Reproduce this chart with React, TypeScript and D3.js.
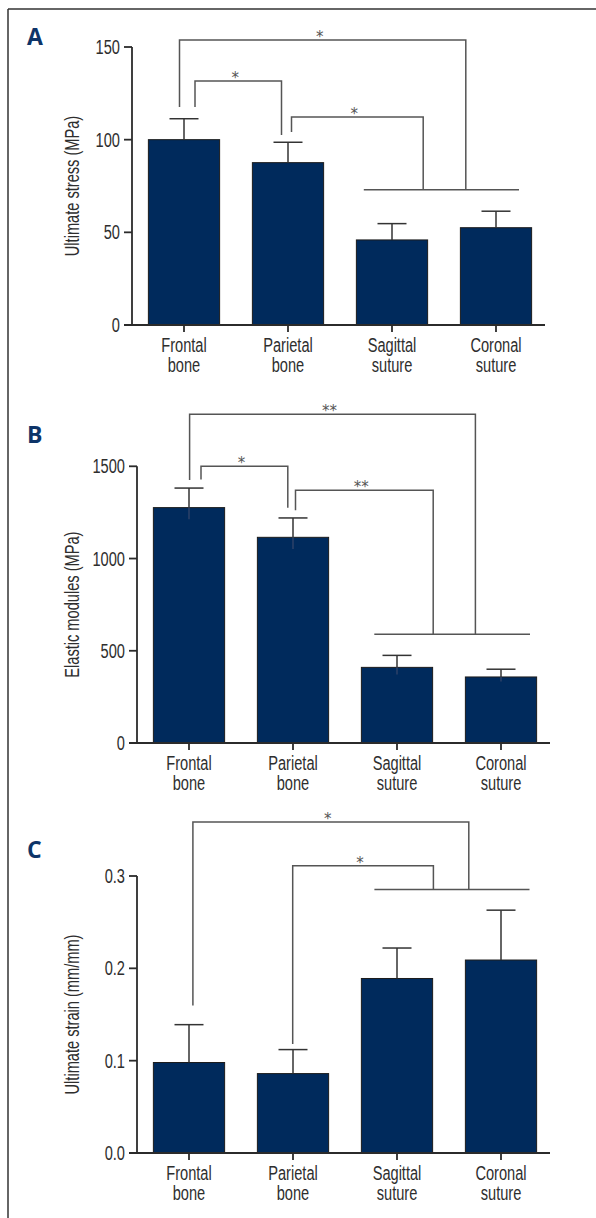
import React from "react";
import * as d3 from "d3";

// ---------- data ----------
const categories: string[][] = [
  ["Frontal", "bone"],
  ["Parietal", "bone"],
  ["Sagittal", "suture"],
  ["Coronal", "suture"],
];

const stressMean = [100, 87.6, 45.9, 52.5];
const stressErr = [11.3, 11.0, 8.8, 8.9];
const stressTicks = [0, 50, 100, 150];

const modulusMean = [1276, 1115, 410, 358];
const modulusErr = [106, 105, 65, 42];
const modulusTicks = [0, 500, 1000, 1500];

const strainMean = [0.098, 0.086, 0.189, 0.209];
const strainErr = [0.041, 0.026, 0.033, 0.054];
const strainTicks = [0, 0.1, 0.2, 0.3];

// significance comparisons: from category -> to category (or the suture group)
const stressSig = [
  { from: 0, to: "group", label: "*", fromLevel: 117.6, top: 153.8 },
  { from: 0, to: 1, label: "*", fromLevel: 117.6, top: 131.7, toLevel: 102.5 },
  { from: 1, to: "group", label: "*", fromLevel: 104.1, top: 112.2 },
];
const stressGroupLevel = 73;

const modulusSig = [
  { from: 0, to: "group", label: "**", fromLevel: 1426, top: 1782 },
  { from: 0, to: 1, label: "*", fromLevel: 1429, top: 1500, toLevel: 1275.6 },
  { from: 1, to: "group", label: "**", fromLevel: 1261.5, top: 1370 },
];
const modulusGroupLevel = 589;

const strainSig = [
  { from: 0, to: "group", label: "*", fromLevel: 0.1598, top: 0.3584 },
  { from: 1, to: "group", label: "*", fromLevel: 0.118, top: 0.3112 },
];
const strainGroupLevel = 0.2855;

// ---------- layout (positions / styles) ----------
const FONT = "'Liberation Sans', Arial, sans-serif";
const SX = 0.75; // horizontal condensing of text
const FS = 19.5;
const BAR = "#002a5c";
const AXIS = "#2b2b2b";
const BRACKET = "#555";
const TEXT = "#2e2e2e";

type Sig = { from: number; to: number | string; label: string; fromLevel: number; top: number; toLevel?: number };

interface PanelCfg {
  letter: string;
  letterY: number;
  axisX: number;
  top: number;
  bottom: number;
  max: number;
  ticks: number[];
  fmt: (v: number) => string;
  ylabel: string;
  mean: number[];
  err: number[];
  sig: Sig[];
  sigOffsets: { from: number; to: number }[];
  groupLevel: number;
  groupSpan: [number, number];
  lowerErr: boolean;
}

const panels: PanelCfg[] = [
  {
    letter: "A", letterY: 45, axisX: 132, top: 47, bottom: 325, max: 150,
    ticks: stressTicks, fmt: d3.format("d"), ylabel: "Ultimate stress (MPa)",
    mean: stressMean, err: stressErr, sig: stressSig,
    sigOffsets: [{ from: -4.5, to: 73.8 }, { from: 11, to: -6.5 }, { from: 3.5, to: 31.2 }],
    groupLevel: stressGroupLevel, groupSpan: [-28.2, 23], lowerErr: false,
  },
  {
    letter: "B", letterY: 442.7, axisX: 137, top: 466.3, bottom: 743, max: 1500,
    ticks: modulusTicks, fmt: d3.format("d"), ylabel: "Elastic modules (MPa)",
    mean: modulusMean, err: modulusErr, sig: modulusSig,
    sigOffsets: [{ from: 0.6, to: 78.4 }, { from: 12, to: -5.2 }, { from: 2.5, to: 36.2 }],
    groupLevel: modulusGroupLevel, groupSpan: [-22.7, 29], lowerErr: true,
  },
  {
    letter: "C", letterY: 858.3, axisX: 137, top: 876, bottom: 1153, max: 0.3,
    ticks: strainTicks, fmt: d3.format(".1f"), ylabel: "Ultimate strain (mm/mm)",
    mean: strainMean, err: strainErr, sig: strainSig,
    sigOffsets: [{ from: 3.9, to: 71.8 }, { from: -0.3, to: 36.4 }],
    groupLevel: strainGroupLevel, groupSpan: [-22.6, 28.5], lowerErr: false,
  },
];

function CText({ x, y, anchor, children, rotate = 0, dy }: { x: number; y: number; anchor: string; children: React.ReactNode; rotate?: number; dy?: string }) {
  return (
    <g transform={`translate(${x},${y}) rotate(${rotate}) scale(${SX},1)`}>
      <text x={0} y={0} dy={dy} textAnchor={anchor as any} fontFamily={FONT} fontSize={FS} fill={TEXT}>
        {children}
      </text>
    </g>
  );
}

function Panel({ cfg }: { cfg: PanelCfg }) {
  const x = d3
    .scaleBand<string>()
    .domain(categories.map((_, i) => String(i)))
    .range([cfg.axisX, cfg.axisX + 416])
    .padding(0);
  const y = d3.scaleLinear().domain([0, cfg.max]).range([cfg.bottom, cfg.top]);
  const bw = x.bandwidth() * 0.685;
  const cx = (i: number) => (x(String(i)) as number) + x.bandwidth() / 2;
  const capHalf = 14.5;
  const sagC = cx(2);
  const corC = cx(3);
  const gy = y(cfg.groupLevel);
  const axisEnd = cfg.axisX + 413;

  return (
    <g>
      <text x={27} y={cfg.letterY} fontFamily="'Open Sans', sans-serif" fontWeight={700} fontSize={23} fill="#0d3468">
        {cfg.letter}
      </text>

      {/* bars */}
      {cfg.mean.map((m, i) => (
        <rect key={"b" + i} x={cx(i) - bw / 2} y={y(m)} width={bw} height={y(0) - y(m)} fill={BAR} stroke="#1c1c1c" strokeWidth={1} />
      ))}
      {/* error bars */}
      {cfg.mean.map((m, i) => (
        <g key={"e" + i} stroke="#333" strokeWidth={1.5}>
          <line x1={cx(i)} x2={cx(i)} y1={y(m)} y2={y(m + cfg.err[i])} />
          <line x1={cx(i) - capHalf} x2={cx(i) + capHalf} y1={y(m + cfg.err[i])} y2={y(m + cfg.err[i])} />
          {cfg.lowerErr && (
            <line x1={cx(i)} x2={cx(i)} y1={y(m)} y2={y(m - cfg.err[i] * 0.6)} stroke="#34466a" strokeWidth={1.3} />
          )}
        </g>
      ))}

      {/* axes */}
      <line x1={cfg.axisX} x2={cfg.axisX} y1={y(cfg.max)} y2={y(0)} stroke={AXIS} strokeWidth={1.8} />
      <line x1={cfg.axisX - 8} x2={axisEnd} y1={y(0)} y2={y(0)} stroke={AXIS} strokeWidth={1.8} />
      {cfg.ticks.map((t) => (
        <g key={"t" + t}>
          <line x1={cfg.axisX - 8} x2={cfg.axisX} y1={y(t)} y2={y(t)} stroke={AXIS} strokeWidth={1.8} />
          <CText x={cfg.axisX - 12} y={y(t)} dy="0.36em" anchor="end">
            {cfg.fmt(t)}
          </CText>
        </g>
      ))}
      {categories.map((c, i) => (
        <g key={"c" + i}>
          <line x1={cx(i)} x2={cx(i)} y1={y(0)} y2={y(0) + 7} stroke={AXIS} strokeWidth={1.8} />
          <CText x={cx(i)} y={y(0) + 26.7} anchor="middle">
            {c[0]}
          </CText>
          <CText x={cx(i)} y={y(0) + 46.7} anchor="middle">
            {c[1]}
          </CText>
        </g>
      ))}
      <CText x={78.5} y={(y(0) + y(cfg.max)) / 2} anchor="middle" rotate={-90}>
        {cfg.ylabel}
      </CText>

      {/* significance */}
      <line x1={sagC + cfg.groupSpan[0]} x2={corC + cfg.groupSpan[1]} y1={gy} y2={gy} stroke={BRACKET} strokeWidth={1.5} />
      {cfg.sig.map((s, k) => {
        const off = cfg.sigOffsets[k];
        const x1 = cx(s.from) + off.from;
        const x2 = s.to === "group" ? sagC + off.to : cx(s.to as number) + off.to;
        const yEnd = s.to === "group" ? gy : y(s.toLevel as number);
        const yt = y(s.top);
        const path = `M${x1},${y(s.fromLevel)}V${yt}H${x2}V${yEnd}`;
        return (
          <g key={"s" + k}>
            <path d={path} fill="none" stroke={BRACKET} strokeWidth={1.5} />
            <text x={(x1 + x2) / 2 - 3} y={yt + 2} textAnchor="middle" fontFamily="'DejaVu Sans', sans-serif" fontSize={15} fill={BRACKET}>
              {s.label}
            </text>
          </g>
        );
      })}
    </g>
  );
}

export default function App() {
  return (
    <svg
      width={596}
      height={1218}
      viewBox="0 0 596 1218"
      style={{ position: "absolute", left: 0, top: 0, background: "#fff" }}
    >
      <rect x={0} y={0} width={596} height={1218} fill="#fff" />
      <line x1={8} x2={596} y1={9} y2={9} stroke="#333" strokeWidth={1.5} />
      <line x1={8} x2={8} y1={9} y2={1218} stroke="#333" strokeWidth={1.5} />
      {panels.map((p) => (
        <Panel key={p.letter} cfg={p} />
      ))}
    </svg>
  );
}
